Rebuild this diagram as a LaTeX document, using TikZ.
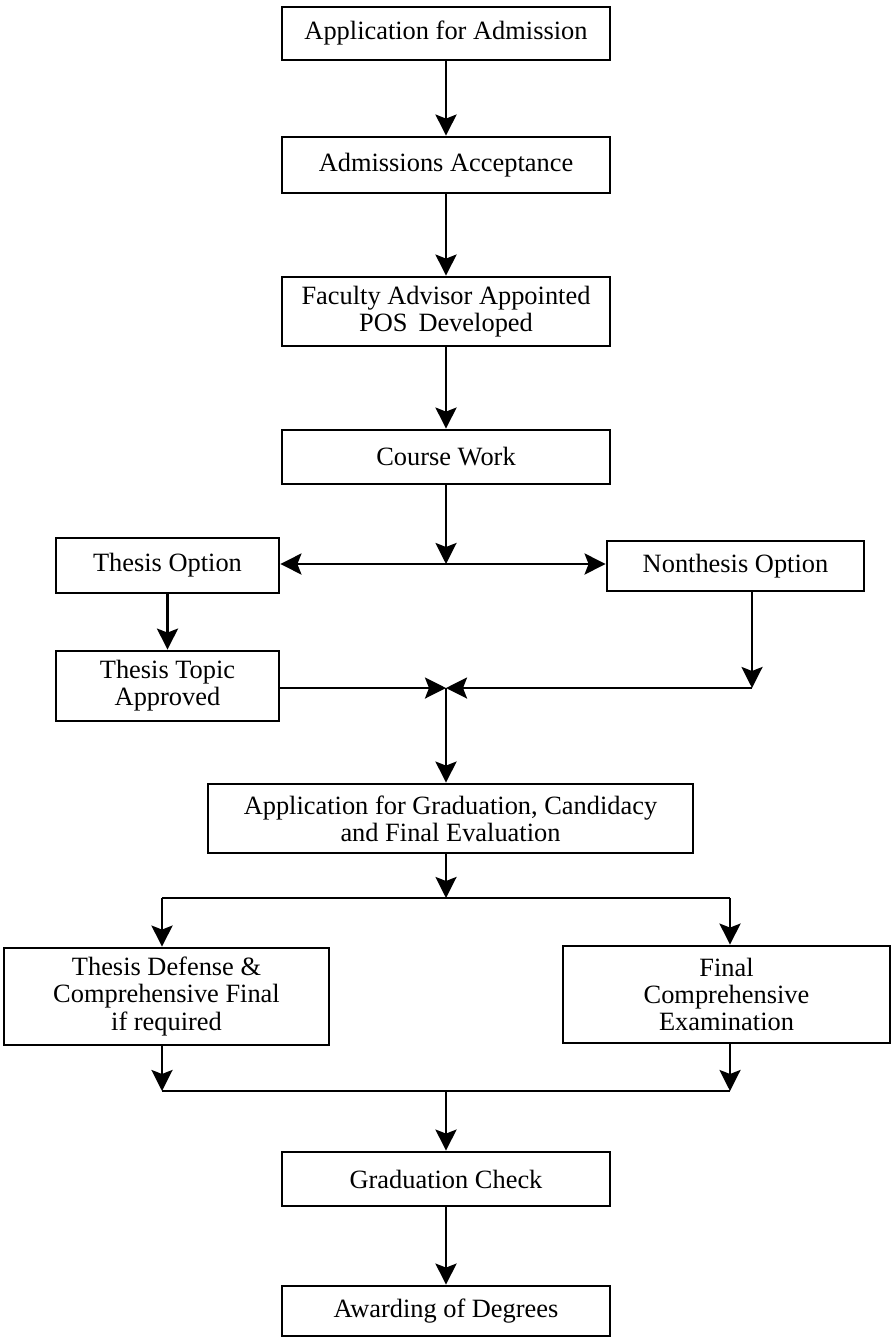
\documentclass[tikz,border=0pt]{standalone}
\usepackage{fontspec}
\setmainfont{Liberation Serif}
\usepackage{tikz}
\usetikzlibrary{arrows.meta, calc}
\usetikzlibrary{positioning}
\tikzset{
    stepbox/.style = {draw, line width=1.4pt, align=center, inner sep=2pt,
                      font=\fontsize{13.2}{13.6}\selectfont},
    wide/.style = {minimum width=164pt},
    link/.style = {line width=1.4pt}
}

\begin{document}
\begin{tikzpicture}[x=0.5pt, y=-0.5pt, >={Stealth[length=10.5pt, width=10.5pt, inset=2pt]}]
            \useasboundingbox (0,0) rectangle (894,1338);

            % main column
            \node[stepbox, wide, minimum height=26.5pt] (admit) at (446,33.5) {Application for Admission};
            \node[stepbox, wide, minimum height=28pt] (accept) at (446,165) {Admissions Acceptance};
            \node[stepbox, wide, minimum height=34.5pt] (advisor) at (446,311.5) {Faculty Advisor Appointed\\POS\, Developed};
            \node[stepbox, wide, minimum height=27pt] (course) at (446,457) {Course Work};

            % options
            \node[stepbox, minimum width=111.5pt, minimum height=27.5pt] (thesis) at (167.5,565.5) {Thesis Option};
            \node[stepbox, minimum width=128.5pt, minimum height=25pt] (nonthesis) at (735.5,566) {Nonthesis Option};
            \node[stepbox, minimum width=111.5pt, minimum height=35pt] (topic) at (167.5,686) {Thesis Topic\\Approved};

            \node[stepbox, minimum width=242.5pt, minimum height=34.5pt] (gradapp) at (450.5,818.5) {Application for Graduation, Candidacy\\and Final Evaluation};

            % final evaluation
            \node[stepbox, minimum width=162.5pt, minimum height=48.5pt] (defense) at (166.5,996.5) {Thesis Defense \&\\Comprehensive Final\\if required};
            \node[stepbox, minimum width=163.5pt, minimum height=48.5pt] (compexam) at (726.5,994.5) {Final\\Comprehensive\\Examination};

            \node[stepbox, wide, minimum height=27pt] (check) at (446,1179) {Graduation Check};
            \node[stepbox, wide, minimum height=25pt] (award) at (446,1311) {Awarding of Degrees};

            \coordinate (fork) at (446,564);
            \coordinate (merge) at (446,688);
            \coordinate (ncorner) at (752,688);
            \coordinate (splitL) at (162,898);
            \coordinate (splitR) at (730,898);
            \coordinate (joinL) at (162,1091);
            \coordinate (joinR) at (730,1091);

            \draw[link, ->] (admit) -- (accept);
            \draw[link, ->] (accept) -- (advisor);
            \draw[link, ->] (advisor) -- (course);
            \draw[link, ->] (course) -- (fork);
            \draw[link, <->] (thesis.east |- fork) -- (nonthesis.west |- fork);

            \draw[link, ->] (thesis) -- (topic);
            \draw[link, ->] (topic.east |- merge) -- (merge);
            \draw[link, ->] (nonthesis.south -| ncorner) -- (ncorner);
            \draw[link, ->] (ncorner) -- (merge);
            \draw[link, ->] (merge) -- (merge |- gradapp.north);

            \draw[link, ->] (merge |- gradapp.south) -- (merge |- splitL);
            \draw[link] (splitL) -- (splitR);
            \draw[link, ->] (splitL) -- (splitL |- defense.north);
            \draw[link, ->] (splitR) -- (splitR |- compexam.north);

            \draw[link, ->] (defense.south -| joinL) -- (joinL);
            \draw[link, ->] (compexam.south -| joinR) -- (joinR);
            \draw[link] (joinL) -- (joinR);
            \draw[link, ->] (check.north |- joinL) -- (check);
            \draw[link, ->] (check) -- (award);

        \end{tikzpicture}
\end{document}
